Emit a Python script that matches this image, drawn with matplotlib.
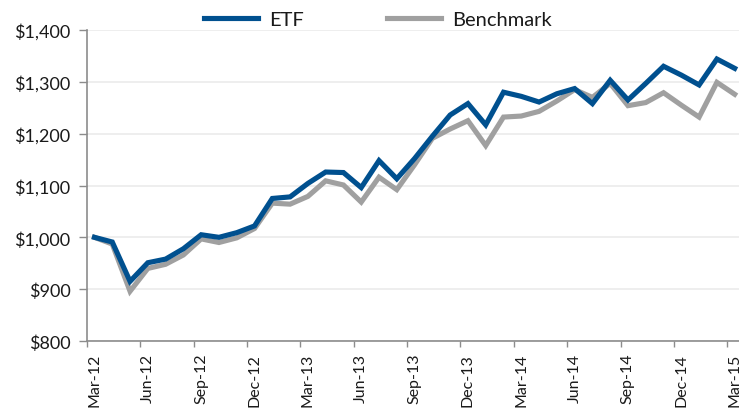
import numpy as np
import matplotlib.pyplot as plt
from matplotlib.ticker import FuncFormatter, FixedLocator

# Growth of $1,000, monthly, Mar-12 .. Mar-15
etf = [1000, 991, 915, 951, 958, 978, 1005, 1000, 1009, 1022,
       1075, 1078, 1104, 1126, 1125, 1096, 1148, 1113, 1152, 1195,
       1236, 1258, 1217, 1280, 1272, 1261, 1277, 1287, 1258, 1303,
       1265, 1297, 1330, 1313, 1294, 1344, 1326]
benchmark = [1000, 987, 896, 940, 948, 966, 997, 990, 999, 1017,
             1066, 1064, 1079, 1109, 1101, 1068, 1116, 1092, 1140, 1191,
             1209, 1225, 1177, 1232, 1234, 1243, 1263, 1285, 1270, 1297,
             1254, 1260, 1279, 1255, 1232, 1299, 1276]
quarter_labels = ['Mar-12', 'Jun-12', 'Sep-12', 'Dec-12', 'Mar-13', 'Jun-13',
                  'Sep-13', 'Dec-13', 'Mar-14', 'Jun-14', 'Sep-14', 'Dec-14',
                  'Mar-15']
y_ticks = [800, 900, 1000, 1100, 1200, 1300, 1400]

plt.rcParams['font.family'] = ['Lato', 'DejaVu Sans']

fig = plt.figure(figsize=(7.39, 4.10), dpi=100)
ax = fig.add_axes([87 / 739, 68 / 410, 658 / 739, 311 / 410])

x = np.arange(len(etf))
ax.plot(x, benchmark, color='#a0a0a0', lw=3.7, solid_joinstyle='miter', label='Benchmark', zorder=3)
ax.plot(x, etf, color='#00508f', lw=3.7, solid_joinstyle='miter', label='ETF', zorder=4)

ax.set_xlim(-0.42, len(etf) - 0.42)
ax.set_ylim(800, 1400)

# y axis
ax.set_yticks(y_ticks)
ax.yaxis.set_major_formatter(FuncFormatter(lambda v, p: f'${v:,.0f}'))
ax.grid(axis='y', color='#ebebeb', lw=1.2, zorder=0)
ax.tick_params(axis='y', length=6, width=1, color='#8c8c8c', labelsize=13,
               labelcolor='#1a1a1a', pad=6)

# x axis: labels on quarter months, ticks on category boundaries
lab_pos = np.arange(0, len(etf), 3)
ax.xaxis.set_major_locator(FixedLocator(lab_pos))
ax.set_xticklabels(quarter_labels, rotation=90, fontsize=11.5, color='#1a1a1a')
ax.xaxis.set_minor_locator(FixedLocator(lab_pos - 0.42))
ax.tick_params(axis='x', which='major', length=0, pad=8.5)
ax.tick_params(axis='x', which='minor', length=4.5, width=1, color='#8c8c8c')

for s in ['top', 'right']:
    ax.spines[s].set_visible(False)
for s in ['left', 'bottom']:
    ax.spines[s].set_color('#8c8c8c')
    ax.spines[s].set_linewidth(1.2)

handles, labels = ax.get_legend_handles_labels()
fig.legend(handles[::-1], labels[::-1], loc='center', bbox_to_anchor=(378 / 739, 1 - 20 / 410),
           ncol=2, frameon=False, fontsize=14.5, handlelength=2.7, handletextpad=0.55,
           columnspacing=4.1, labelcolor='#1a1a1a', borderpad=0)

fig.savefig('out.png', dpi=100)
